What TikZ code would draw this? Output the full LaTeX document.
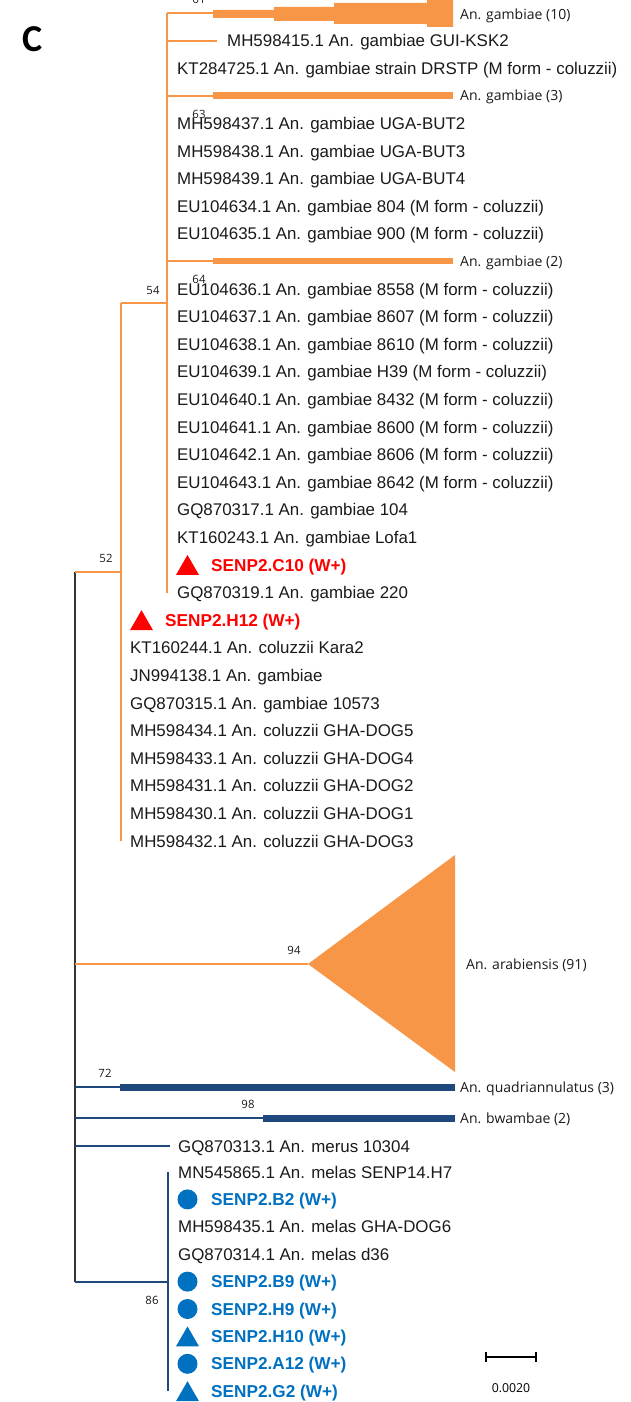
\documentclass[tikz,border=0pt]{standalone}
\usepackage{fontspec}
\setmainfont{Liberation Sans}
\newfontfamily\osf{Open Sans}
\newfontfamily\calf{Carlito}
\usetikzlibrary{shapes.geometric}
\definecolor{orng}{HTML}{F79646}
\definecolor{navyb}{HTML}{1F497D}
\definecolor{redm}{HTML}{FF0000}
\definecolor{bluem}{HTML}{0070C0}
\definecolor{rootc}{HTML}{333333}
\definecolor{txt}{HTML}{1A1A1A}
\begin{document}
\begin{tikzpicture}[x=1pt,y=-1pt,
  leaf/.style={anchor=base west, inner sep=0pt, yshift=-6.05pt, font=\fontsize{16.9}{19}\selectfont, text=txt},
  redt/.style={leaf, font=\fontsize{17.2}{19}\selectfont\bfseries, text=redm},
  bluet/.style={leaf, font=\fontsize{17.2}{19}\selectfont\bfseries, text=bluem},
  clab/.style={anchor=base west, inner sep=0pt, yshift=-5pt, font=\osf\fontsize{14}{16}\selectfont, text=txt},
  boot/.style={inner sep=0pt, font=\osf\fontsize{11.4}{13}\selectfont, text=txt},
  obr/.style={draw=orng, line width=2pt},
  nbr/.style={draw=navyb, line width=2pt},
  obar/.style={draw=orng, line width=7pt},
  nbar/.style={draw=navyb, line width=7pt},
  tri/.style={regular polygon, regular polygon sides=3, minimum size=26.6pt, inner sep=0pt, yshift=-3.3pt},
  dot/.style={circle, minimum size=20pt, inner sep=0pt},
]
\useasboundingbox (0,0) rectangle (631,1402);

% panel letter
\node[font=\calf\bfseries\fontsize{38}{40}\selectfont, inner sep=0pt] (panel) at (33,39) {C};

% internal nodes
\coordinate (root) at (75,571.9);
\coordinate (rootbot) at (75,1281.6);
\coordinate (n52) at (121,571.9);
\coordinate (n52top) at (121,302.8);
\coordinate (n52bot) at (121,841);
\coordinate (n54) at (167,302.8);
\coordinate (n54top) at (167,13);
\coordinate (n54bot) at (167,592.6);
\coordinate (nmel) at (168,1281.6);
\coordinate (nmeltop) at (168,1172);
\coordinate (nmelbot) at (168,1391.2);

% verticals
\draw[draw=rootc, line width=2pt] (root) -- (rootbot);
\draw[obr] (n52top) -- (n52bot);
\draw[obr] (n54top) -- (n54bot);
\draw[nbr] (nmeltop) -- (nmelbot);

% root horizontals
\draw[obr] (root) -- (n52);
\draw[obr] (n52top) -- (n54);

% ---------- clade 54 ----------
% An. gambiae (10)
\coordinate (g10a) at (213,13);
\draw[obr] (n54top) -- (g10a);
\fill[orng] (213,10)--(274,10)--(274,7)--(334,7)--(334,3)--(427,3)--(427,-2)--(453,-2)--(453,27)--(427,27)--(427,24)--(334,24)--(334,21)--(274,21)--(274,18)--(213,18)--cycle;
\node[clab] (g10) at (460,15) {An. gambiae (10)};
\node[boot] (b61) at (199,-1) {61};

\coordinate (e1) at (217,40.6);
\draw[obr] (167,40.6) -- (e1);
\node[leaf] (l1) at (227,40.6) {MH598415.1 An. gambiae GUI-KSK2};
\node[leaf] (l2) at (177,68.2) {KT284725.1 An. gambiae strain DRSTP (M form - coluzzii)};

% An. gambiae (3)
\coordinate (g3a) at (213,95.8);
\coordinate (g3b) at (453,95.8);
\draw[obr] (167,95.8) -- (g3a);
\draw[obar] (g3a) -- (g3b);
\node[clab] (g3) at (460,95.8) {An. gambiae (3)};
\node[boot] (b63) at (199,114) {63};

\node[leaf] (l4) at (177,123.4) {MH598437.1 An. gambiae UGA-BUT2};
\node[leaf] (l5) at (177,151) {MH598438.1 An. gambiae UGA-BUT3};
\node[leaf] (l6) at (177,178.6) {MH598439.1 An. gambiae UGA-BUT4};
\node[leaf] (l7) at (177,206.2) {EU104634.1 An. gambiae 804 (M form - coluzzii)};
\node[leaf] (l8) at (177,233.8) {EU104635.1 An. gambiae 900 (M form - coluzzii)};

% An. gambiae (2)
\coordinate (g2a) at (213,261.4);
\coordinate (g2b) at (453,261.4);
\draw[obr] (167,261.4) -- (g2a);
\draw[obar, line width=6pt] (g2a) -- (g2b);
\node[clab] (g2) at (460,261.4) {An. gambiae (2)};
\node[boot] (b64) at (199,279) {64};
\node[boot] (b54) at (153,290) {54};

\node[leaf] (l10) at (177,289) {EU104636.1 An. gambiae 8558 (M form - coluzzii)};
\node[leaf] (l11) at (177,316.6) {EU104637.1 An. gambiae 8607 (M form - coluzzii)};
\node[leaf] (l12) at (177,344.2) {EU104638.1 An. gambiae 8610 (M form - coluzzii)};
\node[leaf] (l13) at (177,371.8) {EU104639.1 An. gambiae H39 (M form - coluzzii)};
\node[leaf] (l14) at (177,399.4) {EU104640.1 An. gambiae 8432 (M form - coluzzii)};
\node[leaf] (l15) at (177,427) {EU104641.1 An. gambiae 8600 (M form - coluzzii)};
\node[leaf] (l16) at (177,454.6) {EU104642.1 An. gambiae 8606 (M form - coluzzii)};
\node[leaf] (l17) at (177,482.2) {EU104643.1 An. gambiae 8642 (M form - coluzzii)};
\node[leaf] (l18) at (177,509.8) {GQ870317.1 An. gambiae 104};
\node[leaf] (l19) at (177,537.4) {KT160243.1 An. gambiae Lofa1};
\node[tri, fill=redm] (m20) at (187.5,565) {};
\node[redt] (l20) at (211,565) {SENP2.C10 (W+)};
\node[leaf] (l21) at (177,592.6) {GQ870319.1 An. gambiae 220};

% ---------- clade 52 ----------
\node[boot] (b52) at (106,558) {52};
\node[tri, fill=redm] (m22) at (141.5,620.2) {};
\node[redt] (l22) at (165,620.2) {SENP2.H12 (W+)};
\node[leaf] (l23) at (130,647.8) {KT160244.1 An. coluzzii Kara2};
\node[leaf] (l24) at (130,675.4) {JN994138.1 An. gambiae};
\node[leaf] (l25) at (130,703) {GQ870315.1 An. gambiae 10573};
\node[leaf] (l26) at (130,730.6) {MH598434.1 An. coluzzii GHA-DOG5};
\node[leaf] (l27) at (130,758.2) {MH598433.1 An. coluzzii GHA-DOG4};
\node[leaf] (l28) at (130,785.8) {MH598431.1 An. coluzzii GHA-DOG2};
\node[leaf] (l29) at (130,813.4) {MH598430.1 An. coluzzii GHA-DOG1};
\node[leaf] (l30) at (130,841) {MH598432.1 An. coluzzii GHA-DOG3};

% ---------- arabiensis ----------
\coordinate (arb) at (75,964);
\coordinate (arapex) at (308,964);
\draw[obr] (arb) -- (arapex);
\fill[orng] (arapex) -- (455,855) -- (455,1072) -- cycle;
\node[clab] (ara) at (466,964) {An. arabiensis (91)};
\node[boot] (b94) at (294,950) {94};

% ---------- quadriannulatus ----------
\coordinate (qb) at (75,1087);
\coordinate (qa) at (120,1087);
\coordinate (qe) at (455,1087);
\draw[nbr] (qb) -- (qa);
\draw[nbar] (qa) -- (qe);
\node[clab] (quad) at (460,1087) {An. quadriannulatus (3)};
\node[boot] (b72) at (105,1073) {72};

% ---------- bwambae ----------
\coordinate (bb) at (75,1118);
\coordinate (ba) at (263,1118);
\coordinate (be) at (455,1118);
\draw[nbr] (bb) -- (ba);
\draw[nbar] (ba) -- (be);
\node[clab] (bwa) at (460,1118) {An. bwambae (2)};
\node[boot] (b98) at (248,1104) {98};

% ---------- merus ----------
\coordinate (mb) at (75,1146);
\coordinate (me) at (170,1146);
\draw[nbr] (mb) -- (me);
\node[leaf] (mer) at (178,1146) {GQ870313.1 An. merus 10304};

% ---------- melas ----------
\draw[nbr] (rootbot) -- (nmel);
\node[boot] (b86) at (152,1300) {86};
\node[leaf] (j0) at (178,1172) {MN545865.1 An. melas SENP14.H7};
\node[dot, fill=bluem] (k1) at (187.5,1199.4) {};
\node[bluet] (j1) at (211,1199.4) {SENP2.B2 (W+)};
\node[leaf] (j2) at (178,1226.8) {MH598435.1 An. melas GHA-DOG6};
\node[leaf] (j3) at (178,1254.2) {GQ870314.1 An. melas d36};
\node[dot, fill=bluem] (k4) at (187.5,1281.6) {};
\node[bluet] (j4) at (211,1281.6) {SENP2.B9 (W+)};
\node[dot, fill=bluem] (k5) at (187.5,1309) {};
\node[bluet] (j5) at (211,1309) {SENP2.H9 (W+)};
\node[tri, fill=bluem] (k6) at (187.5,1336.4) {};
\node[bluet] (j6) at (211,1336.4) {SENP2.H10 (W+)};
\node[dot, fill=bluem] (k7) at (187.5,1363.8) {};
\node[bluet] (j7) at (211,1363.8) {SENP2.A12 (W+)};
\node[tri, fill=bluem] (k8) at (187.5,1391.2) {};
\node[bluet] (j8) at (211,1391.2) {SENP2.G2 (W+)};

% ---------- scale bar ----------
\coordinate (sbl) at (486,1357);
\coordinate (sbr) at (536,1357);
\draw[line width=1.3pt] (sbl) -- (sbr);
\draw[line width=1.3pt] ([yshift=5pt]sbl) -- ([yshift=-5pt]sbl);
\draw[line width=1.3pt] ([yshift=5pt]sbr) -- ([yshift=-5pt]sbr);
\node[font=\osf\fontsize{12.3}{14}\selectfont, inner sep=0pt] (sbt) at (511,1388) {0.0020};
\end{tikzpicture}
\end{document}
